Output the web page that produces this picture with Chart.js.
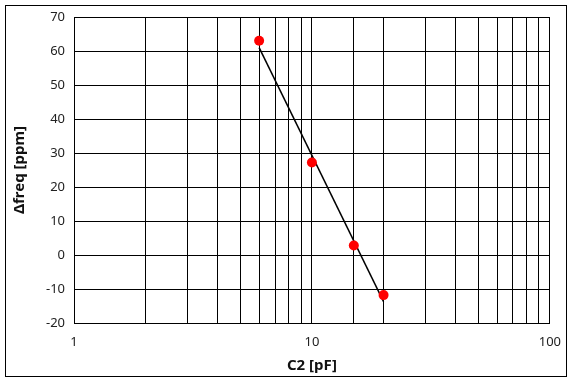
<!DOCTYPE html>
<html>
<head>
<meta charset="utf-8">
<script src="https://cdn.jsdelivr.net/npm/chart.js@4/dist/chart.umd.min.js"></script>
<style>
  html, body { margin:0; padding:0; background:#fff; }
  #wrap { width:572px; height:383px; position:relative; }
</style>
</head>
<body>
<div id="wrap"><canvas id="c" width="572" height="383"></canvas></div>
<script>
// ========== Data ==========
const capValues = [6, 10, 15, 20];          // C2 [pF]
const freqValues = [63, 27.2, 2.8, -11.8];  // Δfreq [ppm]
const fitX = [6, 20];
const fitY = [61, -13.7];
const xTickLabels = [1, 10, 100];

// outer frame around the whole picture
const framePlugin = {
  id:'frame',
  afterDraw(chart){
    const ctx = chart.ctx;
    ctx.save();
    ctx.strokeStyle = '#000';
    ctx.lineWidth = 1;
    ctx.strokeRect(5.5, 5.5, 561, 371);
    ctx.restore();
  }
};

const font = '"Noto Sans", "Open Sans", sans-serif';

new Chart(document.getElementById('c'), {
  type:'scatter',
  data:{
    datasets:[
      { label:'fit', data: fitX.map((x,i)=>({x, y: fitY[i]})), showLine:true, borderColor:'#000', borderWidth:1.5, pointRadius:0, order:2 },
      { label:'meas', data: capValues.map((x,i)=>({x, y: freqValues[i]})), backgroundColor:'#ff0000', borderWidth:0, pointRadius:5, order:1 }
    ]
  },
  options:{
    responsive:false, animation:false,
    layout:{ padding:{ left:0, right:21, top:17, bottom:0 } },
    plugins:{ legend:{ display:false }, tooltip:{ enabled:false } },
    scales:{
      x:{
        type:'logarithmic', min:1, max:100,
        grid:{ color:'#000', lineWidth:1, drawTicks:false },
        border:{ color:'#000' },
        ticks:{
          autoSkip:false, maxRotation:0, padding:11, color:'#222',
          font:{ family:font, size:13 },
          callback:(v)=> xTickLabels.includes(v) ? String(v) : ''
        },
        title:{ display:true, text:'C2 [pF]', color:'#111', font:{ family:font, size:15, weight:'bold' }, padding:{ top:0, bottom:8 } },
        afterFit(s){ s.height = 60; }
      },
      y:{
        min:-20, max:70,
        grid:{ color:'#000', lineWidth:1, drawTicks:false },
        border:{ color:'#000' },
        ticks:{ stepSize:10, padding:9, color:'#222', font:{ family:font, size:13 } },
        title:{ display:true, text:'Δfreq [ppm]', color:'#111', font:{ family:font, size:15, weight:'bold' }, padding:{ top:11, bottom:0 } },
        afterFit(s){ s.width = 74; }
      }
    }
  },
  plugins:[framePlugin]
});
</script>
</body>
</html>
